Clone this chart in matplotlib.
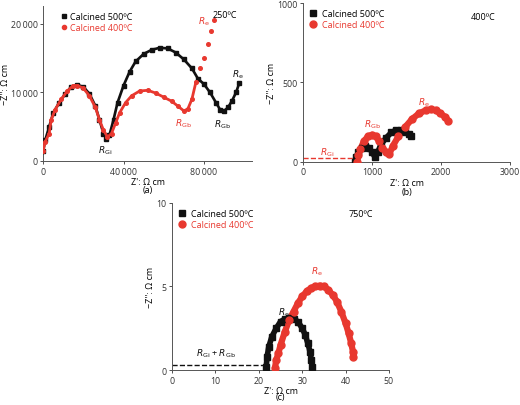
import matplotlib
matplotlib.use("Agg")
import matplotlib.pyplot as plt

plt.rcParams['font.family'] = ['Open Sans', 'DejaVu Sans']
plt.rcParams['font.size'] = 6.5

BLACK = '#111111'
RED = '#e8382f'

# (a) 250 C
a_x500 = [0,1000,3000,5000,8000,11000,14000,17000,20000,23000,26000,28000,30000,31500,33000,35000,37000,40000,43000,46000,50000,54000,58000,62000,66000,70000,74000,77000,80000,83000,86000,88000,90000,92000,94000,96000,97500]
a_y500 = [1500,3000,5000,7000,8500,9800,10800,11100,10800,9800,8000,6000,4000,3200,3800,6000,8500,11000,13000,14500,15600,16200,16500,16400,15800,14800,13500,12000,11200,10000,8500,7500,7300,7800,8800,10000,11300]
a_x400 = [0,1000,3000,4000,6000,9000,12000,15000,17000,20000,23000,26000,28000,30000,32000,34000,36000,38000,41000,44000,48000,52000,56000,60000,64000,67000,70000,72000,74000,76000,78000,80000,82000,83500,85000]
a_y400 = [1500,2800,4000,6000,7500,9000,10200,11000,11000,10600,9500,7800,6000,4500,3500,4000,5500,7000,8500,9500,10200,10300,9900,9300,8700,8000,7300,7600,9000,11500,13500,15000,17000,19000,20600]

# (b) 400 C
b_x500 = [750,770,800,850,900,950,1000,1040,1080,1130,1200,1280,1350,1420,1480,1530,1560]
b_y500 = [0,30,60,90,100,90,60,30,60,110,150,185,200,200,190,175,160]
b_x400 = [780,800,830,880,940,1000,1050,1100,1150,1200,1250,1300,1380,1480,1580,1680,1780,1850,1920,1990,2050,2100]
b_y400 = [0,40,80,130,160,170,160,130,90,60,50,100,160,220,270,305,325,330,325,305,285,260]

# (c) 750 C
c_x500 = [21.7,21.9,22.3,23.0,24.0,25.0,26.0,27.0,28.0,29.0,30.0,30.7,31.3,31.8,32.1,32.3]
c_y500 = [0.2,0.8,1.4,2.0,2.5,2.9,3.05,3.1,3.05,2.9,2.5,2.1,1.6,1.1,0.6,0.2]
c_x400 = [23.7,24.0,24.5,25.0,26.0,27.0,28.0,29.0,30.0,31.0,32.0,33.0,34.0,35.0,36.0,37.0,38.0,39.0,40.0,40.7,41.3,41.7,41.8]
c_y400 = [0.1,0.6,1.0,1.5,2.3,3.0,3.5,4.0,4.4,4.7,4.9,5.0,5.05,5.0,4.8,4.5,4.1,3.5,2.8,2.2,1.6,1.1,0.8]

fig = plt.figure(figsize=(5.2, 4.06), dpi=100)

def style(ax):
    for s in ('top', 'right'):
        ax.spines[s].set_visible(False)
    for s in ('left', 'bottom'):
        ax.spines[s].set_color('#555555')
        ax.spines[s].set_linewidth(0.7)
    ax.tick_params(length=2.5, width=0.6, colors='#333333', labelsize=6.3, pad=1.5)

def series(ax, x, y, c, m, ms, lwf=0.9):
    ax.plot(x, y, color=c, lw=ms*lwf, zorder=2, solid_capstyle='butt')
    ax.plot(x, y, ls='none', marker=m, color=c, ms=ms, zorder=3)

# (a)
ax = fig.add_axes([0.083, 0.601, 0.402, 0.382])
style(ax)
series(ax, a_x500, a_y500, BLACK, 's', 2.4, 0.8)
ax.plot(a_x400, a_y400, ls='none', marker='o', color=RED, ms=2.6, zorder=4)
ax.plot(a_x400[:30], a_y400[:30], color=RED, lw=2.0, zorder=3)
ax.set_xlim(0, 104000); ax.set_ylim(0, 22600)
ax.set_xticks([0, 40000, 80000]); ax.set_xticklabels(['0', '40\u2009000', '80\u2009000'])
ax.set_yticks([0, 10000, 20000]); ax.set_yticklabels(['0', '10\u2009000', '20\u2009000'])
ax.set_xlabel("Z': Ω cm", labelpad=1)
ax.set_ylabel("−Z'': Ω cm")
ax.yaxis.set_label_coords(-0.16, 0.5)
ax.text(0.5, -0.2, '(a)', transform=ax.transAxes, ha='center')
ax.plot([], [], 's', color=BLACK, ms=3, label='Calcined 500ºC')
ax.plot([], [], 'o', color=RED, ms=3, label='Calcined 400ºC')
leg = ax.legend(loc='upper left', bbox_to_anchor=(0.05, 1.0), frameon=False, handletextpad=0.3, borderpad=0.2, labelspacing=0.2, handlelength=0.8)
leg.get_texts()[1].set_color(RED)
ax.text(0.87, 0.93, '250ºC', transform=ax.transAxes, ha='center')
ax.text(31000, 1200, r'$R_{\rm Gi}$', ha='center', color=BLACK)
ax.text(70000, 5200, r'$R_{\rm Gb}$', ha='center', color=RED)
ax.text(89000, 5000, r'$R_{\rm Gb}$', ha='center', color=BLACK)
ax.text(97000, 12300, r'$R_{\rm e}$', ha='center', color=BLACK)
ax.text(80000, 20000, r'$R_{\rm e}$', ha='center', color=RED)

# (b)
ax = fig.add_axes([0.583, 0.599, 0.398, 0.391])
style(ax)
ax.plot([0, 740], [25, 25], ls='--', color=RED, lw=1.0)
series(ax, b_x500, b_y500, BLACK, 's', 4.5)
series(ax, b_x400, b_y400, RED, 'o', 5)
ax.set_xlim(0, 3000); ax.set_ylim(0, 1000)
ax.set_xticks([0, 1000, 2000, 3000]); ax.set_yticks([0, 500, 1000])
ax.set_xlabel("Z': Ω cm", labelpad=1)
ax.set_ylabel("−Z'': Ω cm", labelpad=1)
ax.text(0.5, -0.2, '(b)', transform=ax.transAxes, ha='center')
ax.plot([], [], 's', color=BLACK, ms=5, label='Calcined 500ºC')
ax.plot([], [], 'o', color=RED, ms=5, label='Calcined 400ºC')
leg = ax.legend(loc='upper left', bbox_to_anchor=(0.0, 1.0), frameon=False, handletextpad=0.6, borderpad=0.2, labelspacing=0.2, handlelength=0.8)
leg.get_texts()[1].set_color(RED)
ax.text(0.87, 0.9, '400ºC', transform=ax.transAxes, ha='center')
ax.text(350, 45, r'$R_{\rm Gi}$', ha='center', color=RED)
ax.text(1000, 220, r'$R_{\rm Gb}$', ha='center', color=RED)
ax.text(1750, 360, r'$R_{\rm e}$', ha='center', color=RED)

# (c)
ax = fig.add_axes([0.331, 0.086, 0.417, 0.412])
style(ax)
ax.plot([0, 21.5], [0.3, 0.3], ls='--', color=BLACK, lw=1.0)
series(ax, c_x500, c_y500, BLACK, 's', 4.5)
series(ax, c_x400, c_y400, RED, 'o', 5)
ax.set_xlim(0, 50); ax.set_ylim(0, 10)
ax.set_xticks([0, 10, 20, 30, 40, 50]); ax.set_yticks([0, 5, 10])
ax.set_xlabel("Z': Ω cm", labelpad=1)
ax.set_ylabel("−Z'': Ω cm", labelpad=1)
ax.text(0.5, -0.17, '(c)', transform=ax.transAxes, ha='center')
ax.plot([], [], 's', color=BLACK, ms=5, label='Calcined 500ºC')
ax.plot([], [], 'o', color=RED, ms=5, label='Calcined 400ºC')
leg = ax.legend(loc='upper left', bbox_to_anchor=(0.0, 1.0), frameon=False, handletextpad=0.6, borderpad=0.2, labelspacing=0.2, handlelength=0.8)
leg.get_texts()[1].set_color(RED)
ax.text(0.87, 0.92, '750ºC', transform=ax.transAxes, ha='center')
ax.text(10, 0.9, r'$R_{\rm Gi}$ + $R_{\rm Gb}$', ha='center', color=BLACK)
ax.text(25.8, 3.3, r'$R_{\rm e}$', ha='center', color=BLACK)
ax.text(33.5, 5.8, r'$R_{\rm e}$', ha='center', color=RED)

fig.savefig('out.png', dpi=100)
